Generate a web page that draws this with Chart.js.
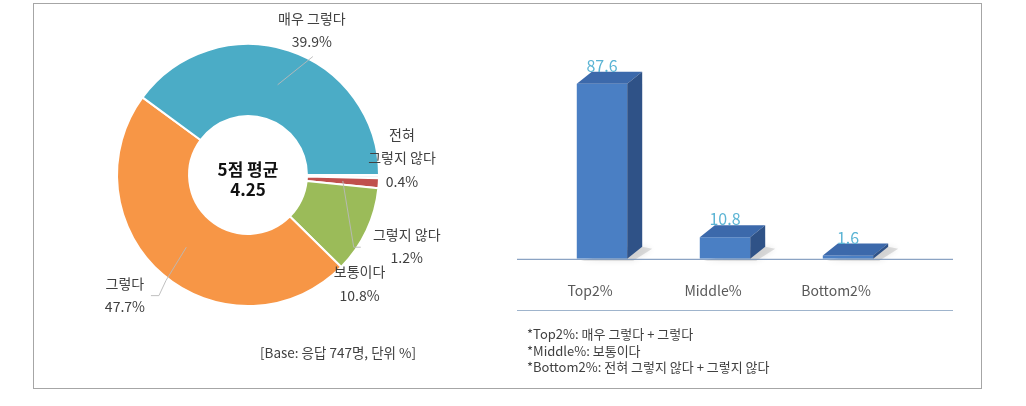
<!DOCTYPE html>
<html>
<head>
<meta charset="utf-8">
<script src="https://cdn.jsdelivr.net/npm/chart.js@4.4.1/dist/chart.umd.min.js"></script>
<style>
body { margin: 0; background: #fff; width: 1026px; height: 406px; position: relative; overflow: hidden; font-family: "Noto Sans CJK KR", sans-serif; }
#frame { position: absolute; left: 33px; top: 3px; width: 947px; height: 384px; border: 1px solid #a6a6a6; }
#pie { position: absolute; left: 0; top: 0; }
#bar { position: absolute; left: 510px; top: 0; }
.note { position: absolute; color: #404040; white-space: nowrap; }
#base { left: 260px; top: 342px; font-size: 13.5px; }
#rule { position: absolute; left: 517px; top: 310px; width: 436px; border-top: 1px solid #9fb4cc; }
#foot { left: 527px; top: 326px; font-size: 13px; line-height: 16.5px; }
</style>
</head>
<body>
<div id="frame"></div>
<canvas id="pie" width="510" height="406"></canvas>
<canvas id="bar" width="516" height="343"></canvas>
<div id="rule"></div>
<div class="note" id="base">[Base: 응답 747명, 단위 %]</div>
<div class="note" id="foot"></div>
<script>
// 5점 척도 응답 분포 (%)
var categories = [['전혀', '그렇지 않다'], ['그렇지 않다'], ['보통이다'], ['그렇다'], ['매우 그렇다']];
var shares = [0.4, 1.2, 10.8, 47.7, 39.9];
var centerTitle = '5점 평균';
var average = '4.25';

// Top2 / Middle / Bottom2
var groups = ['Top2%', 'Middle%', 'Bottom2%'];
var groupValues = [87.6, 10.8, 1.6];

var footnotes = [
    '*Top2%: 매우 그렇다 + 그렇다',
    '*Middle%: 보통이다',
    '*Bottom2%: 전혀 그렇지 않다 + 그렇지 않다'
];

var FONT = '"Noto Sans CJK KR", "Noto Sans", sans-serif';
var sliceColors = ['#eef6f9', '#c0504d', '#9bbb59', '#f79646', '#4bacc6'];
// label position (first line) relative to the slice's outer midpoint
var labelShift = [[23, -42], [28, 51], [-7, 41], [-38, 9], [23, -32]];
// leader line bends relative to the same point, line starts on the mid ring
var leaderBends = [null, [[-25, 64], [-18, 64]], null, [[3, 6], [-4, 21], [-12, 21]], [[24, 6]]];

document.getElementById('foot').innerHTML = footnotes.join('<br>');

var pieLabels = {
    id: 'pieLabels',
    afterDatasetsDraw: function (chart) {
        var ctx = chart.ctx;
        var meta = chart.getDatasetMeta(0);
        var cx = 0, cy = 0;
        ctx.save();
        meta.data.forEach(function (arc, i) {
            var p = arc.getProps(['x', 'y', 'startAngle', 'endAngle', 'outerRadius', 'innerRadius'], true);
            cx = p.x; cy = p.y;
            var mid = (p.startAngle + p.endAngle) / 2;
            var cos = Math.cos(mid), sin = Math.sin(mid);
            var ox = p.x + cos * p.outerRadius, oy = p.y + sin * p.outerRadius;
            var bends = leaderBends[i];
            if (bends) {
                var rm = (p.innerRadius + p.outerRadius) / 2;
                ctx.beginPath();
                ctx.moveTo(p.x + cos * rm, p.y + sin * rm);
                bends.forEach(function (b) { ctx.lineTo(ox + b[0], oy + b[1]); });
                ctx.strokeStyle = 'rgba(185,185,185,0.9)';
                ctx.lineWidth = 1;
                ctx.stroke();
            }
            var lines = [].concat(categories[i], shares[i].toFixed(1) + '%');
            ctx.fillStyle = '#404040';
            ctx.font = '14px ' + FONT;
            ctx.textAlign = 'center';
            ctx.textBaseline = 'middle';
            lines.forEach(function (t, k) {
                ctx.fillText(t, ox + labelShift[i][0], oy + labelShift[i][1] + k * 23.5);
            });
        });
        ctx.fillStyle = '#111';
        ctx.font = 'bold 17px ' + FONT;
        ctx.fillText(centerTitle, cx, cy - 5);
        ctx.fillText(average, cx, cy + 15);
        ctx.restore();
    }
};

new Chart(document.getElementById('pie'), {
    type: 'doughnut',
    data: {
        labels: categories,
        datasets: [{
            data: shares,
            backgroundColor: sliceColors,
            borderColor: '#ffffff',
            borderWidth: 2
        }]
    },
    plugins: [pieLabels],
    options: {
        responsive: false,
        animation: false,
        rotation: 90,
        cutout: '45%',
        layout: { padding: { left: 116, top: 43, right: 130, bottom: 99 } },
        plugins: { legend: { display: false }, tooltip: { enabled: false } }
    }
});

// 3D look for the bars: depth offset
var DX = 15, DY = -12;
var bar3d = {
    id: 'bar3d',
    beforeDatasetsDraw: function (chart) {
        var ctx = chart.ctx;
        var meta = chart.getDatasetMeta(0);
        var area = chart.chartArea;
        var base = meta.data[0].base;
        ctx.save();
        // soft shadows behind each bar
        meta.data.forEach(function (bar) {
            var r = bar.x + bar.width / 2;
            ctx.beginPath();
            ctx.moveTo(bar.x - bar.width / 2 + 4, base + 2);
            ctx.lineTo(r + 6, base + 2);
            ctx.lineTo(r + DX + 10, base + DY + 2);
            ctx.lineTo(r + DX, base + DY);
            ctx.closePath();
            ctx.shadowColor = 'rgba(0,0,0,0.3)';
            ctx.shadowBlur = 6;
            ctx.fillStyle = 'rgba(150,150,150,0.3)';
            ctx.fill();
        });
        ctx.shadowBlur = 0;
        ctx.shadowColor = 'transparent';
        ctx.beginPath();
        ctx.moveTo(area.left - 23.5, base + 0.5);
        ctx.lineTo(area.right + 43.5, base + 0.5);
        ctx.strokeStyle = '#6f8db5';
        ctx.lineWidth = 1;
        ctx.stroke();
        ctx.restore();
    },
    afterDatasetsDraw: function (chart) {
        var ctx = chart.ctx;
        var meta = chart.getDatasetMeta(0);
        ctx.save();
        meta.data.forEach(function (bar, i) {
            var l = bar.x - bar.width / 2, r = bar.x + bar.width / 2, y = bar.y, b = bar.base;
            ctx.beginPath();
            ctx.moveTo(l, y);
            ctx.lineTo(l + DX, y + DY);
            ctx.lineTo(r + DX, y + DY);
            ctx.lineTo(r, y);
            ctx.closePath();
            ctx.fillStyle = '#3c69ab';
            ctx.fill();
            ctx.beginPath();
            ctx.moveTo(r, y);
            ctx.lineTo(r + DX, y + DY);
            ctx.lineTo(r + DX, b + DY);
            ctx.lineTo(r, b);
            ctx.closePath();
            ctx.fillStyle = '#2f5287';
            ctx.fill();
            ctx.fillStyle = '#5bb4d4';
            ctx.font = '16px ' + FONT;
            ctx.textAlign = 'center';
            ctx.textBaseline = 'middle';
            ctx.fillText(groupValues[i].toFixed(1), bar.x, y + DY - 6);
        });
        ctx.restore();
    }
};

new Chart(document.getElementById('bar'), {
    type: 'bar',
    data: {
        labels: groups,
        datasets: [{
            data: groupValues,
            backgroundColor: '#4a7fc4',
            barPercentage: 0.41,
            categoryPercentage: 1
        }]
    },
    plugins: [bar3d],
    options: {
        responsive: false,
        animation: false,
        layout: { padding: { left: 30.5, right: 116.5, top: 59, bottom: 21.4 } },
        plugins: { legend: { display: false }, tooltip: { enabled: false } },
        scales: {
            x: {
                grid: { display: false, drawTicks: false },
                border: { display: false },
                ticks: { color: '#595959', font: { size: 14, family: FONT }, padding: 23, labelOffset: -12 }
            },
            y: { display: false, min: 0, max: 100 }
        }
    }
});
</script>
</body>
</html>
